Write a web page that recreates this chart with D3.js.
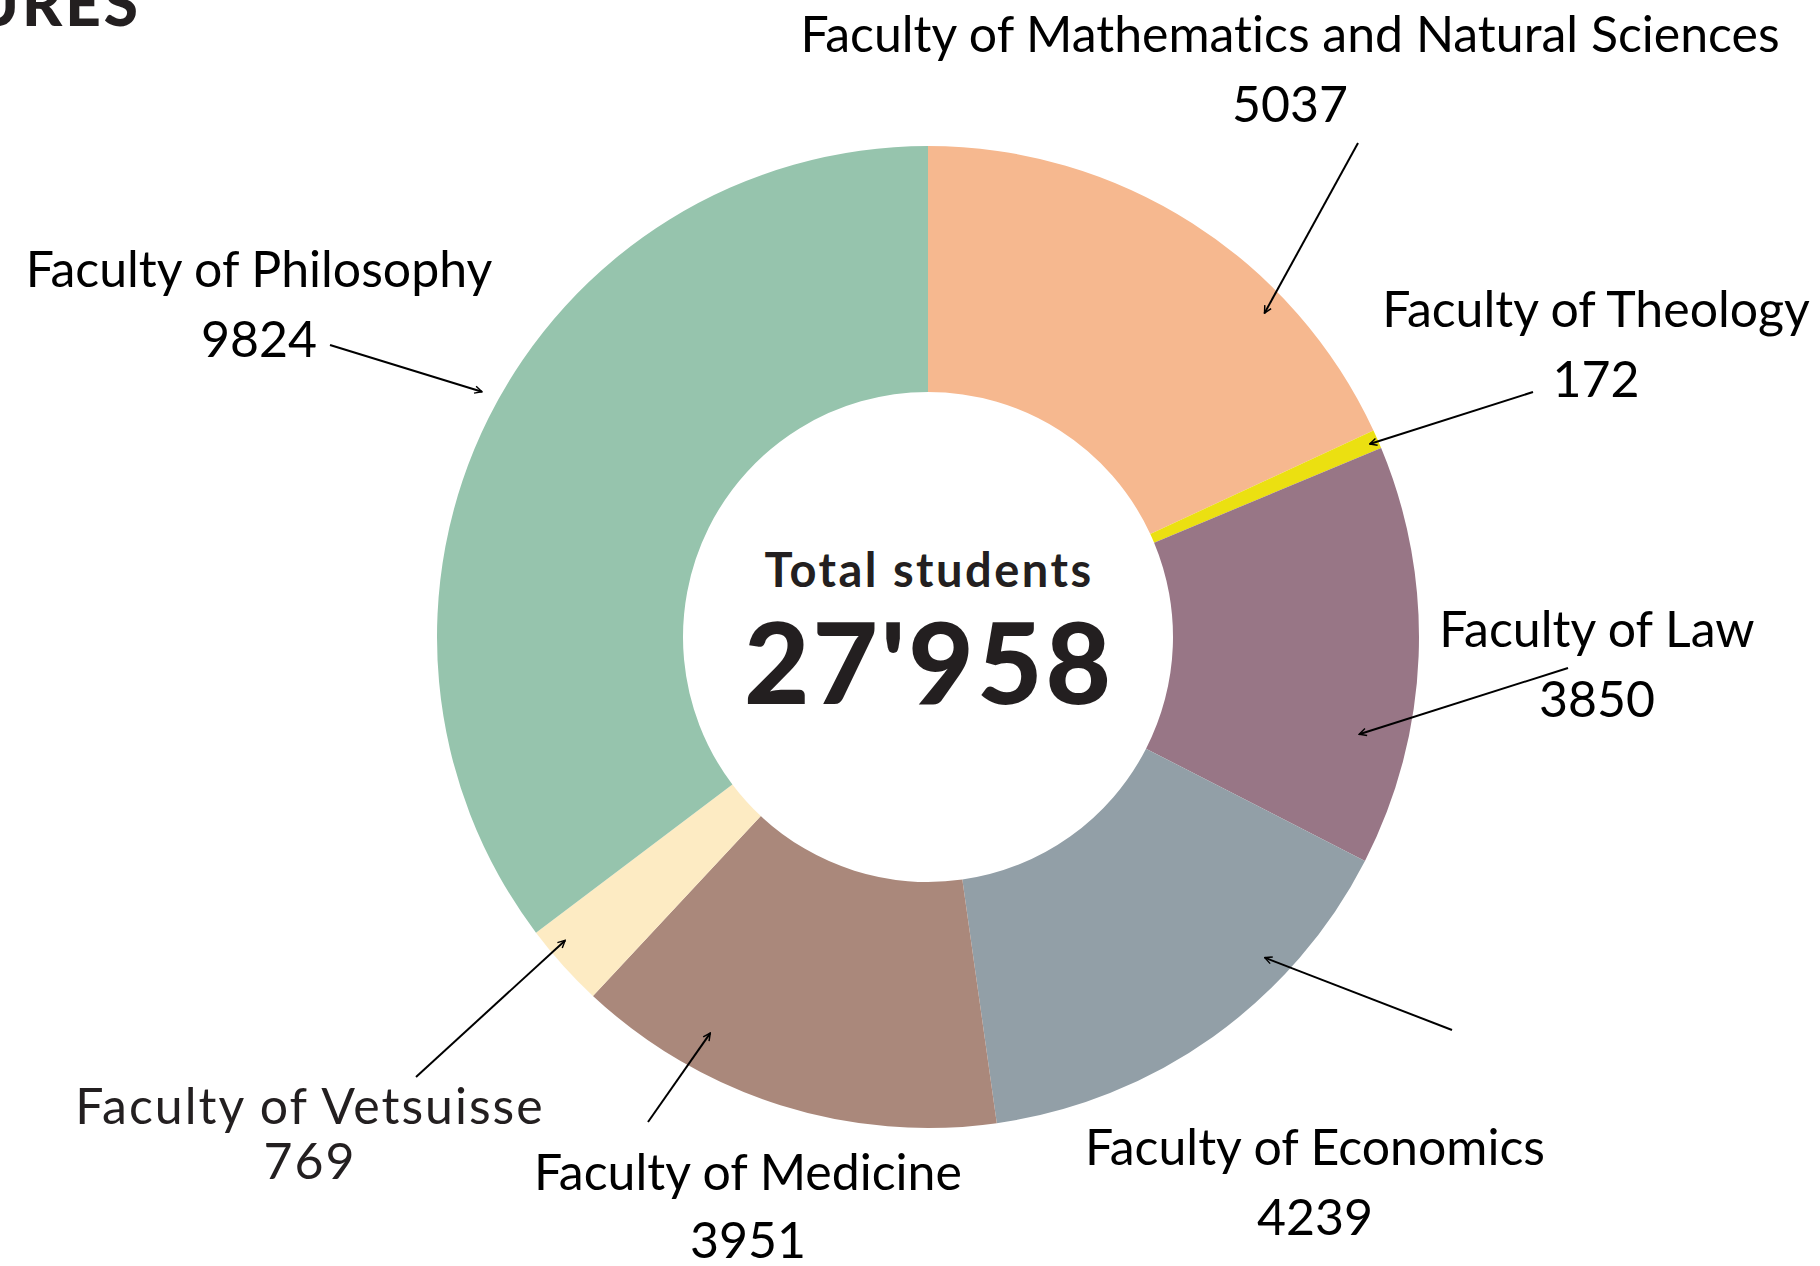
<!DOCTYPE html>
<html>
<head>
<meta charset="utf-8">
<script src="https://cdn.jsdelivr.net/npm/d3@7"></script>
<style>
  html, body { margin: 0; padding: 0; background: #fff; }
  svg { display: block; }
  text { font-variant-ligatures: none; font-feature-settings: "liga" 0, "clig" 0; }
</style>
</head>
<body>
<svg id="chart"></svg>
<script>
// Data
const faculties = [
  "Faculty of Mathematics and Natural Sciences",
  "Faculty of Theology",
  "Faculty of Law",
  "Faculty of Economics",
  "Faculty of Medicine",
  "Faculty of Vetsuisse",
  "Faculty of Philosophy"
];
const students = [5037, 172, 3850, 4239, 3951, 769, 9824];
const totalLabel = "27'958";
const colors = ["#f6b88f", "#ebe011", "#987686", "#929fa7", "#aa887b", "#fdebc3", "#96c4ad"];

// Configurations
let width = 1820 // outer width, in pixels
let height = 1266 // outer height, in pixels
let cx = 928 // donut center x
let cy = 637 // donut center y
let outerRadius = 491
let innerRadius = 245
let labelFont = "Lato, 'Noto Sans', sans-serif"
let labelSize = 50
let ink = "#000"

// label anchor (x, baseline y, line gap, letter spacing), arrow start (sx, sy), arrow tip in polar (deg, r)
const labelLayout = [
  {x: 1290, y: 52,   gap: 70, ls: 0,   sx: 1358, sy: 143,  deg: 46.1,  r: 467},
  {x: 1596, y: 327,  gap: 70, ls: 0,   sx: 1533, sy: 392,  deg: 66.4,  r: 482},
  {x: 1597, y: 647,  gap: 70, ls: 0,   sx: 1568, sy: 668,  deg: 102.7, r: 442},
  {x: 1315, y: 1165, gap: 70, ls: 0,   sx: 1452, sy: 1030, deg: 133.6, r: 465},
  {x: 748,  y: 1190, gap: 68, ls: 0,   sx: 648,  sy: 1122, deg: 208.8, r: 452},
  {x: 310,  y: 1124, gap: 55, ls: 2,   sx: 416,  sy: 1077, deg: 230.1, r: 473},
  {x: 259,  y: 287,  gap: 70, ls: 0,   sx: 330,  sy: 345,  deg: 298.8, r: 509}
];

const svg = d3.select("#chart")
  .attr("width", width)
  .attr("height", height)
  .attr("viewBox", [0, 0, width, height]);

svg.append("rect").attr("width", width).attr("height", height).attr("fill", "#fff");

// arrow head
svg.append("defs").append("marker")
  .attr("id", "arrow")
  .attr("viewBox", "0 0 10 10")
  .attr("refX", 9)
  .attr("refY", 5)
  .attr("markerWidth", 9)
  .attr("markerHeight", 9)
  .attr("markerUnits", "userSpaceOnUse")
  .attr("orient", "auto")
  .append("path")
  .attr("d", "M1,1 L9,5 L1,9")
  .attr("fill", "none")
  .attr("stroke", ink)
  .attr("stroke-width", 1.6);

// title fragment at top left (cut off by the frame)
svg.append("text")
  .attr("x", 141)
  .attr("y", 26)
  .attr("text-anchor", "end")
  .attr("font-family", "Lato, sans-serif")
  .attr("font-weight", 900)
  .attr("font-size", 62)
  .attr("letter-spacing", 3)
  .attr("fill", "#231f20")
  .text("FIGURES");

const pie = d3.pie().sort(null).value(d => d)(students);
const arc = d3.arc().innerRadius(innerRadius).outerRadius(outerRadius);

const g = svg.append("g").attr("transform", `translate(${cx},${cy})`);

g.selectAll("path")
  .data(pie)
  .join("path")
  .attr("d", arc)
  .attr("fill", (d, i) => colors[i]);

// center
g.append("text")
  .attr("x", 1)
  .attr("y", -50)
  .attr("text-anchor", "middle")
  .attr("font-family", "Lato, sans-serif")
  .attr("font-weight", 700)
  .attr("font-size", 47)
  .attr("letter-spacing", 2.5)
  .attr("fill", "#231f20")
  .text("Total students");

g.append("text")
  .attr("x", 1)
  .attr("y", 67)
  .attr("text-anchor", "middle")
  .attr("font-family", "Lato, sans-serif")
  .attr("font-weight", 900)
  .attr("font-size", 113)
  .attr("letter-spacing", 3)
  .attr("fill", "#231f20")
  .text(totalLabel);

// labels
const labels = svg.append("g")
  .attr("font-family", labelFont)
  .attr("font-size", labelSize)
  .attr("text-anchor", "middle");

labelLayout.forEach((L, i) => {
  const col = i === 5 ? "#231f20" : ink;
  labels.append("text").attr("x", L.x).attr("y", L.y).attr("fill", col)
    .attr("letter-spacing", L.ls).text(faculties[i]);
  labels.append("text").attr("x", L.x).attr("y", L.y + L.gap).attr("fill", col)
    .attr("letter-spacing", L.ls).text(students[i]);

  const a = L.deg * Math.PI / 180;
  svg.append("line")
    .attr("x1", L.sx).attr("y1", L.sy)
    .attr("x2", cx + L.r * Math.sin(a))
    .attr("y2", cy - L.r * Math.cos(a))
    .attr("stroke", ink)
    .attr("stroke-width", 2)
    .attr("marker-end", "url(#arrow)");
});
</script>
</body>
</html>
